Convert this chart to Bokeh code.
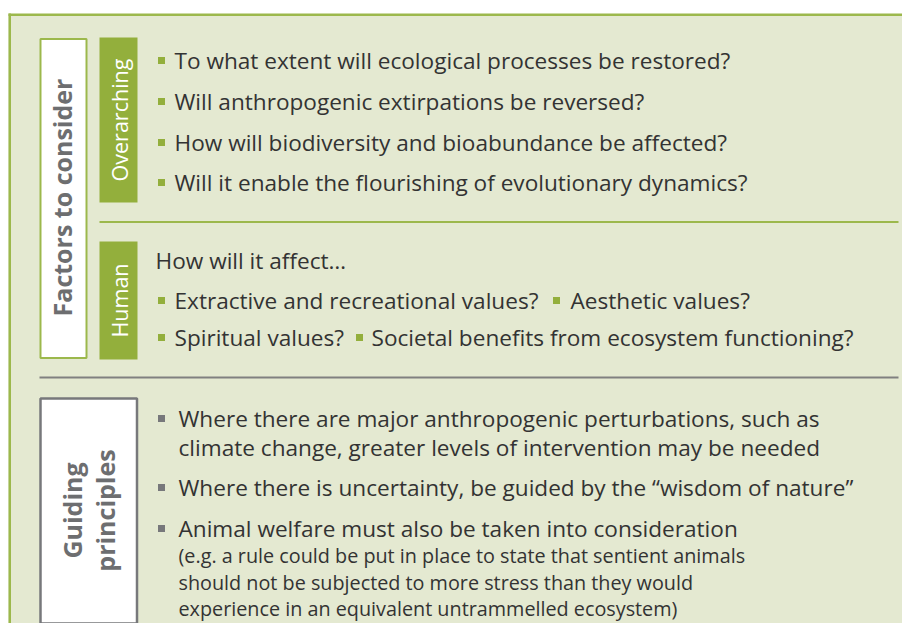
import math
from bokeh.plotting import figure
from bokeh.models import Range1d
from bokeh.core.properties import value
from bokeh.embed import file_html
from bokeh.resources import INLINE

# ---- content ----
section_main = "Factors to consider"
sub_over = "Overarching"
sub_human = "Human"
section_guide = ["Guiding", "principles"]

overarching_items = [
    "To what extent will ecological processes be restored?",
    "Will anthropogenic extirpations be reversed?",
    "How will biodiversity and bioabundance be affected?",
    "Will it enable the flourishing of evolutionary dynamics?",
]
human_intro = "How will it affect\u2026"
human_row1 = ["Extractive and recreational values?", "Aesthetic values?"]
human_row2 = ["Spiritual values?", "Societal benefits from ecosystem functioning?"]
guiding_items = [
    ["Where there are major anthropogenic perturbations, such as",
     "climate change, greater levels of intervention may be needed"],
    ["Where there is uncertainty, be guided by the \u201cwisdom of nature\u201d"],
    ["Animal welfare must also be taken into consideration"],
]
guiding_note = [
    "(e.g. a rule could be put in place to state that sentient animals",
    "should not be subjected to more stress than they would",
    "experience in an equivalent untrammelled ecosystem)",
]

# ---- styles ----
BG = "#e4e9d1"
GREEN = "#93af3c"
GREEN_L = "#9cb84c"
GRAY = "#77787b"
GRAY_T = "#6d6e70"
TXT = "#333333"
FONT = "Open Sans"
FS = "22.6px"
FS_S = "19.8px"
H = 639
W_PX, H_PX = 902, 623

def Y(y):
    return H - y

p = figure(width=W_PX, height=H_PX, x_range=Range1d(0, W_PX), y_range=Range1d(H - H_PX, H),
           output_backend="svg", toolbar_location=None, min_border=0)
p.axis.visible = False
p.grid.visible = False
p.outline_line_color = None
p.background_fill_color = "white"
p.border_fill_color = "white"

# outer panel
p.quad(left=[8], right=[930], top=[Y(14)], bottom=[Y(650)], fill_color=BG, line_color=None)
p.quad(left=[8], right=[10.5], top=[Y(13)], bottom=[Y(650)], fill_color=GREEN_L, line_color=None)
p.quad(left=[8], right=[930], top=[Y(13)], bottom=[Y(15.5)], fill_color=GREEN_L, line_color=None)

# boxes
p.quad(left=[40], right=[86], top=[Y(38.5)], bottom=[Y(357.5)], fill_color="white",
       line_color=GREEN_L, line_width=2)
p.quad(left=[99, 99], right=[137, 137], top=[Y(37), Y(241)], bottom=[Y(202), Y(359)],
       fill_color=GREEN, line_color=None)
p.quad(left=[40], right=[136.5], top=[Y(398)], bottom=[Y(623)], fill_color="white",
       line_color=GRAY, line_width=2.5)

# separators
p.segment(x0=[99], y0=[Y(221.5)], x1=[898], y1=[Y(221.5)], line_color=GREEN_L, line_width=2)
p.segment(x0=[39], y0=[Y(377)], x1=[898], y1=[Y(377)], line_color="#808080", line_width=2)

# rotated labels
p.text(x=[61], y=[Y(197)], text=[section_main], angle=math.pi / 2, text_align="center",
       text_baseline="middle", text_color=GRAY_T, text_font=value(FONT), text_font_size="25px",
       text_font_style="bold")
p.text(x=[118.5, 118.5], y=[Y(119.5), Y(300)], text=[sub_over, sub_human], angle=math.pi / 2,
       text_align="center", text_baseline="middle", text_color="white", text_font=value(FONT),
       text_font_size="21.5px")
p.text(x=[71, 104.5], y=[Y(510), Y(510)], text=section_guide, angle=math.pi / 2,
       text_align="center", text_baseline="middle", text_color=GRAY_T, text_font=value(FONT),
       text_font_size="25px", text_font_style="bold")

# overarching bullets
oy = [60, 101, 142, 182]
p.rect(x=[161] * 4, y=[Y(v) for v in oy], width=7, height=7, fill_color=GREEN, line_color=None)
p.text(x=[174] * 4, y=[Y(v) for v in oy], text=overarching_items, text_baseline="middle",
       text_color=TXT, text_font=value(FONT), text_font_size=FS)

# human
p.text(x=[155], y=[Y(260)], text=[human_intro], text_baseline="middle", text_color=TXT,
       text_font=value(FONT), text_font_size=FS)
hx_b = [161, 556, 161, 359]
hx_t = [174, 570, 174, 371]
hy = [300, 300, 337, 337]
htext = human_row1 + human_row2
p.rect(x=hx_b, y=[Y(v) for v in hy], width=7, height=7, fill_color=GREEN, line_color=None)
p.text(x=hx_t, y=[Y(v) for v in hy], text=htext, text_baseline="middle", text_color=TXT,
       text_font=value(FONT), text_font_size=FS)

# guiding
gy = [[418, 447], [487], [528]]
p.rect(x=[161] * 3, y=[Y(g[0]) for g in gy], width=7, height=7, fill_color=GRAY, line_color=None)
gx, gyy, gt = [], [], []
for lines, ys in zip(guiding_items, gy):
    for t, yy in zip(lines, ys):
        gx.append(178); gyy.append(Y(yy)); gt.append(t)
p.text(x=gx, y=gyy, text=gt, text_baseline="middle", text_color=TXT,
       text_font=value(FONT), text_font_size=FS)
ny = [555, 582, 608]
p.text(x=[178] * 3, y=[Y(v) for v in ny], text=guiding_note, text_baseline="middle",
       text_color=TXT, text_font=value(FONT), text_font_size=FS_S)

open("out.html", "w").write(file_html(p, INLINE))
